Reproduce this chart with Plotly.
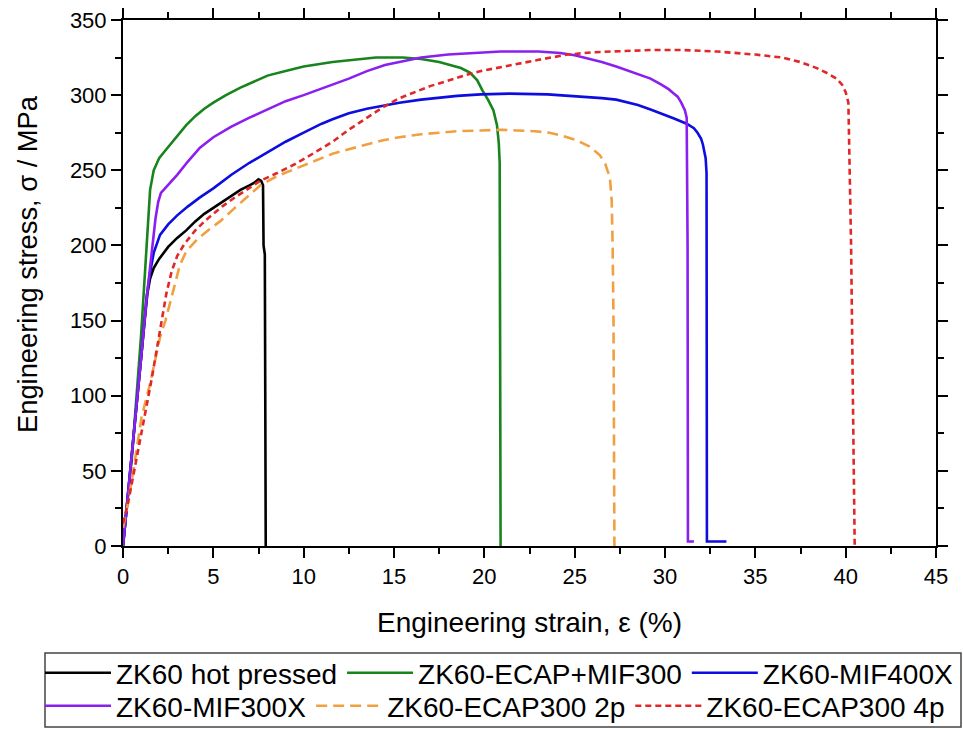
import plotly.graph_objects as go

# ---- data ----
hp_x = [0, 0.5, 1.0, 1.2, 1.35, 1.5, 1.7, 2.0, 2.5, 3.0, 3.5, 4.0, 4.5, 5.0, 5.5, 6.0, 6.5, 7.0,
        7.3, 7.5, 7.65, 7.75, 7.78, 7.85, 7.9]
hp_y = [0, 60, 125, 150, 168, 178, 185, 191, 199, 205, 210, 216, 221, 225, 229, 233, 237, 240,
        242, 244, 243, 240, 200, 194, 0]

ecapmif_x = [0, 0.5, 1.0, 1.2, 1.35, 1.5, 1.7, 2.0, 2.4, 3.0, 3.5, 4.0, 4.5, 5.0, 5.7, 6.5, 7.3,
             8.0, 9.0, 10.0, 11.6, 13.0, 14.0, 15.5, 16.5, 17.5, 18.1, 18.7, 19.2, 19.6, 19.9,
             20.2, 20.5, 20.7, 20.8, 20.85, 20.87, 20.9]
ecapmif_y = [0, 60, 140, 180, 215, 237, 250, 258, 264, 273, 280, 286, 291, 295, 300, 305, 309,
             313, 316, 319, 322, 324, 325, 325, 324, 322, 320, 318, 315, 310, 303,
             297, 290, 280, 268, 255, 150, 0]

mif400_x = [0, 0.5, 1.0, 1.3, 1.5, 1.7, 2.05, 2.5, 3.0, 3.6, 4.26, 5.0, 6.0, 7.0, 7.97, 9.0, 10.0,
            11.0, 11.6, 12.5, 13.5, 14.5, 15.3, 16.5, 17.5, 18.5, 19.8, 21.4, 23.5, 25.5, 26.5,
            27.3, 28.0, 28.5, 29.2, 30.0, 30.5, 31.2, 31.6, 31.8, 32.0, 32.1, 32.25, 32.3,
            32.32, 33.4]
mif400_y = [0, 60, 125, 165, 182, 195, 207, 214, 220, 226, 232, 238, 247, 255, 262, 269, 275,
            281, 284, 288, 291, 293.5, 295, 297, 298.5, 299.5, 300.5, 301, 300.5, 299, 298,
            297, 295, 293.5, 290.5, 287, 284.5, 281, 278, 275, 271, 267, 258, 248,
            3, 3]

mif300_x = [0, 0.5, 1.0, 1.3, 1.6, 1.8, 1.95, 2.1, 2.4, 3.0, 3.6, 4.26, 5.0, 6.0, 7.0, 7.95, 9.0,
            10.0, 11.6, 12.5, 13.5, 14.5, 15.3, 16.5, 18.0, 19.5, 20.9, 22.0, 23.0, 24.2, 25.0,
            25.5, 26.5, 27.3, 28.3, 29.2, 29.8, 30.2, 30.5, 30.7, 30.9, 31.1, 31.2, 31.25,
            31.27, 31.6]
mif300_y = [0, 60, 125, 164, 197, 218, 229, 235, 239, 247, 256, 265, 272, 279, 285, 290, 296,
            300, 307, 311, 316, 320, 322, 325, 327, 328, 329, 329, 329, 328, 326.5,
            325, 322, 319, 315, 311, 307, 304, 301, 299, 295, 290, 285, 200,
            3, 3]

ecap2_x = [0, 0.3, 0.7, 1.03, 1.5, 2.05, 2.35, 2.6, 2.9, 3.15, 3.5, 4.1, 4.7, 5.37, 6.1, 6.86,
           7.6, 8.5, 9.5, 10.5, 11.6, 12.5, 13.5, 14.4, 15.3, 16.5, 17.5, 18.5, 19.8, 21.0,
           21.8, 22.8, 23.6, 24.3, 25.1, 25.8, 26.4, 26.7, 26.95, 27.05, 27.1, 27.15, 27.2]
ecap2_y = [12, 30, 60, 86, 108, 139, 150, 161, 176, 187, 196, 204, 210, 216, 224, 232,
           240, 246, 251, 256, 261, 264, 267, 270, 272, 274, 275, 276, 276.5, 277,
           276.5, 276, 275, 273, 270, 266, 260, 254, 245, 230, 200, 150, 0]

ecap4_x = [0, 0.3, 0.7, 1.0, 1.3, 1.6, 1.87, 2.1, 2.4, 2.7, 3.0, 3.4, 4.0, 4.6, 5.5, 6.2, 6.85,
           7.6, 8.5, 9.5, 10.5, 11.6, 12.5, 13.5, 14.4, 15.3, 16.2, 17.0, 18.1, 19.0, 19.8,
           20.8, 21.8, 23.0, 24.6, 26.0, 27.0, 29.2, 31.0, 32.9, 35.0, 36.5, 37.5, 38.4,
           39.0, 39.5, 39.8, 40.0, 40.15, 40.3, 40.4, 40.5]
ecap4_y = [15, 30, 55, 75, 93, 112, 130, 148, 168, 183, 193, 201, 210, 217, 226, 232, 237,
           243, 248, 254, 261, 269, 277, 285, 292, 298, 302, 306, 310, 313.5, 316,
           318.5, 320.5, 323.5, 327, 328.5, 329, 330, 330, 329, 327, 325, 322, 318,
           314.5, 311, 307, 302, 295, 200, 100, 0]

names = ["ZK60 hot pressed", "ZK60-ECAP+MIF300", "ZK60-MIF400X",
         "ZK60-MIF300X", "ZK60-ECAP300 2p", "ZK60-ECAP300 4p"]

x_ticks = [0, 5, 10, 15, 20, 25, 30, 35, 40, 45]
y_ticks = [0, 50, 100, 150, 200, 250, 300, 350]

x_title = "Engineering strain, ε (%)"
y_title = "Engineering stress, σ / MPa"

# ---- styling ----
series = [
    (hp_x, hp_y, "#000000", "solid", "legend"),
    (ecapmif_x, ecapmif_y, "#18841c", "solid", "legend"),
    (mif400_x, mif400_y, "#0d0de0", "solid", "legend"),
    (mif300_x, mif300_y, "#8a1ff0", "solid", "legend2"),
    (ecap2_x, ecap2_y, "#f0a040", "11px,6px", "legend2"),
    (ecap4_x, ecap4_y, "#e02828", "6px,4px", "legend2"),
]

FONT = "Liberation Sans, Arial, sans-serif"

fig = go.Figure()
for (xs, ys, col, dash, lg), nm in zip(series, names):
    fig.add_trace(go.Scatter(x=xs, y=ys, mode="lines", name=nm, legend=lg,
                             line=dict(color=col, width=2.6, dash=dash)))

W, H = 963, 729
ml, mr, mt, mb = 123, 27, 20, 183
pw, ph = W - ml - mr, H - mt - mb


def px2paper_x(p):
    return (p - ml) / pw


def px2paper_y(p):
    return (H - mb - p) / ph


axis_common = dict(showline=True, linecolor="black", linewidth=2, mirror="ticks",
                   ticks="outside", tickcolor="black", tickwidth=2, ticklen=10,
                   showgrid=False, zeroline=False,
                   tickfont=dict(family=FONT, size=22, color="black"))

fig.update_xaxes(range=[0, 45], tickvals=x_ticks,
                 minor=dict(dtick=2.5, ticklen=6, tickwidth=2, tickcolor="black", ticks="outside"),
                 title=dict(text=x_title, font=dict(family=FONT, size=28, color="black"),
                            standoff=24),
                 **axis_common)
fig.update_yaxes(range=[0, 350], tickvals=y_ticks,
                 minor=dict(dtick=25, ticklen=6, tickwidth=2, tickcolor="black", ticks="outside"),
                 **axis_common)

# y-axis title placed as rotated annotation (slightly above the plot centre, as in the reference)
fig.add_annotation(text=y_title, textangle=-90, xref="paper", yref="paper",
                   x=px2paper_x(27), y=px2paper_y(264), xanchor="center", yanchor="middle",
                   showarrow=False, font=dict(family=FONT, size=27.3, color="black"))

legend_common = dict(orientation="h", xanchor="left", yanchor="middle",
                     font=dict(family=FONT, size=28, color="black"),
                     bgcolor="rgba(0,0,0,0)", borderwidth=0, itemwidth=66,
                     tracegroupgap=0)

fig.update_layout(
    width=W, height=H,
    margin=dict(l=ml, r=mr, t=mt, b=mb, autoexpand=False),
    paper_bgcolor="white", plot_bgcolor="white",
    font=dict(family=FONT, color="black"),
    legend=dict(x=px2paper_x(40), y=px2paper_y(673), **legend_common),
    legend2=dict(x=px2paper_x(40), y=px2paper_y(706), **legend_common),
    showlegend=True,
)

fig.add_shape(type="rect", xref="paper", yref="paper",
              x0=px2paper_x(45), x1=px2paper_x(961), y0=px2paper_y(727), y1=px2paper_y(653),
              line=dict(color="#444444", width=1.5), fillcolor="rgba(0,0,0,0)")

fig.write_html("out.html", config={"displayModeBar": False},
               post_script="document.body.style.margin='0';")
